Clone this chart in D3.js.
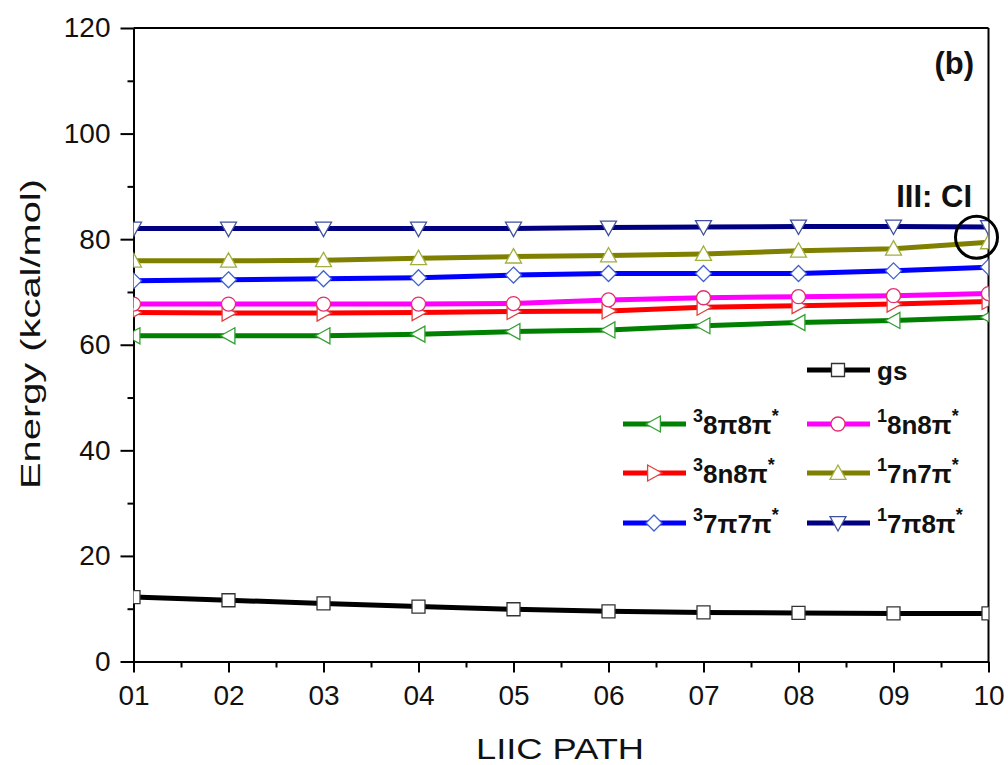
<!DOCTYPE html>
<html><head><meta charset="utf-8">
<script src="https://cdn.jsdelivr.net/npm/d3@7"></script>
<style>
body{margin:0;background:#fff;}
text{font-family:Arial,"Liberation Sans",sans-serif;}
</style></head>
<body>
<svg id="c" width="1008" height="765"></svg>
<script>
const xLabels = ["01","02","03","04","05","06","07","08","09","10"];
const yTicks = [0,20,40,60,80,100,120];
const gs      = [12.2,11.6,11.0,10.4,9.9,9.5,9.3,9.2,9.1,9.1];
const t8pi8pi = [61.7,61.7,61.7,62.0,62.5,62.8,63.6,64.2,64.6,65.2];
const t8n8pi  = [66.1,66.0,66.0,66.1,66.3,66.4,67.1,67.4,67.7,68.2];
const t7pi7pi = [72.1,72.3,72.5,72.7,73.2,73.5,73.5,73.5,74.0,74.7];
const s8n8pi  = [67.7,67.7,67.7,67.7,67.8,68.5,68.9,69.1,69.3,69.7];
const s7n7pi  = [75.9,75.9,76.0,76.4,76.7,76.9,77.2,77.8,78.2,79.4];
const s7pi8pi = [82.0,82.0,82.0,82.0,82.0,82.2,82.3,82.4,82.4,82.3];

const series = [
  {name:"gs", sup:"", base:"gs", star:false, vals:gs, color:"#000000", mstroke:"#333333", shape:"square"},
  {name:"t8pi8pi", sup:"3", base:"8π8π", star:true, vals:t8pi8pi, color:"#008000", mstroke:"#33a033", shape:"left"},
  {name:"t8n8pi", sup:"3", base:"8n8π", star:true, vals:t8n8pi, color:"#ff0000", mstroke:"#e04040", shape:"right"},
  {name:"t7pi7pi", sup:"3", base:"7π7π", star:true, vals:t7pi7pi, color:"#0000ff", mstroke:"#4060d0", shape:"diamond"},
  {name:"s8n8pi", sup:"1", base:"8n8π", star:true, vals:s8n8pi, color:"#ff00ff", mstroke:"#e03070", shape:"circle"},
  {name:"s7n7pi", sup:"1", base:"7n7π", star:true, vals:s7n7pi, color:"#808000", mstroke:"#a0b040", shape:"up"},
  {name:"s7pi8pi", sup:"1", base:"7π8π", star:true, vals:s7pi8pi, color:"#000080", mstroke:"#4050a0", shape:"down"}
];

const svg = d3.select("#c");
const X0 = 133.5, X1 = 988.5, Y0 = 661.5, Y1 = 28;
const x = d3.scaleLinear().domain([0, xLabels.length-1]).range([X0, X1]);
const y = d3.scaleLinear().domain([0,120]).range([Y0, Y1]);

function markerPath(shape, r){
  switch(shape){
    case "square": return `M${-r},${-r}H${r}V${r}H${-r}Z`;
    case "circle": return `M${-r},0A${r},${r} 0 1,0 ${r},0A${r},${r} 0 1,0 ${-r},0Z`;
    case "diamond": return `M0,${-r}L${r},0L0,${r}L${-r},0Z`;
    case "up": return `M0,${-r}L${r},${r*0.8}L${-r},${r*0.8}Z`;
    case "down": return `M0,${r}L${r},${-r*0.8}L${-r},${-r*0.8}Z`;
    case "left": return `M${-r},0L${r*0.8},${-r}L${r*0.8},${r}Z`;
    case "right": return `M${r},0L${-r*0.8},${-r}L${-r*0.8},${r}Z`;
  }
}
const msize = {square:6.5, circle:7, diamond:8, up:8, down:8, left:8, right:8};

svg.append("defs").append("clipPath").attr("id","pc")
  .append("rect").attr("x",X0).attr("y",Y1).attr("width",X1-X0).attr("height",Y0-Y1);

// frame top & right
svg.append("line").attr("x1",X0).attr("x2",X1).attr("y1",Y1).attr("y2",Y1).attr("stroke","#000").attr("stroke-width",2);
svg.append("line").attr("x1",X1).attr("x2",X1).attr("y1",Y1).attr("y2",Y0).attr("stroke","#000").attr("stroke-width",2);

// axes
const fs = 28;
const yAx = svg.append("g").attr("transform",`translate(${X0},0)`)
  .call(d3.axisLeft(y).tickValues(yTicks).tickSize(13).tickSizeOuter(0).tickPadding(10));
const yMinor = svg.append("g").attr("transform",`translate(${X0},0)`)
  .call(d3.axisLeft(y).tickValues(d3.range(10,120,20)).tickSize(6).tickFormat("").tickSizeOuter(0));
const xAx = svg.append("g").attr("transform",`translate(0,${Y0})`)
  .call(d3.axisBottom(x).tickValues(d3.range(xLabels.length)).tickFormat(i=>xLabels[i]).tickSize(11).tickSizeOuter(0).tickPadding(13));
const xMinor = svg.append("g").attr("transform",`translate(0,${Y0})`)
  .call(d3.axisBottom(x).tickValues(d3.range(xLabels.length-1).map(i=>i+0.5)).tickSize(6).tickFormat("").tickSizeOuter(0));
[yAx,yMinor,xAx,xMinor].forEach(g=>{
  g.selectAll("path.domain").attr("stroke","#000").attr("stroke-width",2);
  g.selectAll(".tick line").attr("stroke","#000").attr("stroke-width",2);
  g.selectAll("text").attr("font-size",fs).attr("fill","#111").style("font-family","Arial, 'Liberation Sans', sans-serif");
});

// axis titles
svg.append("text").attr("transform","translate(40,334) rotate(-90)").attr("text-anchor","middle")
  .attr("font-size",28).attr("fill","#111")
  .attr("textLength",310).attr("lengthAdjust","spacingAndGlyphs").text("Energy (kcal/mol)");
svg.append("text").attr("x",560).attr("y",759).attr("text-anchor","middle")
  .attr("font-size",29).attr("fill","#111")
  .attr("textLength",168).attr("lengthAdjust","spacingAndGlyphs").text("LIIC PATH");

// data
const plot = svg.append("g").attr("clip-path","url(#pc)");
const line = d3.line().x((d,i)=>x(i)).y(d=>y(d));
series.forEach(s=>{
  plot.append("path").datum(s.vals).attr("d",line).attr("fill","none")
    .attr("stroke",s.color).attr("stroke-width",5);
});
series.forEach(s=>{
  plot.selectAll(null).data(s.vals).enter().append("path")
    .attr("transform",(d,i)=>`translate(${x(i)},${y(d)})`)
    .attr("d",markerPath(s.shape,msize[s.shape]))
    .attr("fill","#fff").attr("stroke",s.mstroke).attr("stroke-width",1.3);
});

// legend
const legPos = {
  gs:[807,370], t8pi8pi:[623,424], s8n8pi:[807,424], t8n8pi:[623,473], s7n7pi:[807,473], t7pi7pi:[623,523], s7pi8pi:[807,523]
};
series.forEach(s=>{
  const [lx,ly] = legPos[s.name];
  const g = svg.append("g").attr("transform",`translate(${lx},${ly})`);
  g.append("line").attr("x1",0).attr("x2",63).attr("y1",0).attr("y2",0).attr("stroke",s.color).attr("stroke-width",5);
  g.append("path").attr("transform","translate(31,0)").attr("d",markerPath(s.shape,msize[s.shape]))
    .attr("fill","#fff").attr("stroke",s.mstroke).attr("stroke-width",1.3);
  const t = g.append("text").attr("x",70).attr("y",10).attr("font-size",26).attr("font-weight","bold").attr("fill","#111");
  if(s.sup){ t.append("tspan").attr("font-size",18).attr("dy",-12).text(s.sup); t.append("tspan").attr("dy",12).text(s.base); }
  else t.append("tspan").text(s.base);
  if(s.star) t.append("tspan").attr("font-size",18).attr("dy",-12).text("*");
});

// annotations
svg.append("text").attr("x",974).attr("y",74).attr("text-anchor","end").attr("font-size",31).attr("font-weight","bold").attr("fill","#111").text("(b)");
svg.append("text").attr("x",972).attr("y",207).attr("text-anchor","end").attr("font-size",31).attr("font-weight","bold").attr("fill","#111").text("III: CI");
svg.append("circle").attr("cx",x(xLabels.length-1)-12).attr("cy",y(s7n7pi[s7n7pi.length-1])-5).attr("r",21)
  .attr("fill","none").attr("stroke","#000").attr("stroke-width",3);
</script>
</body></html>
